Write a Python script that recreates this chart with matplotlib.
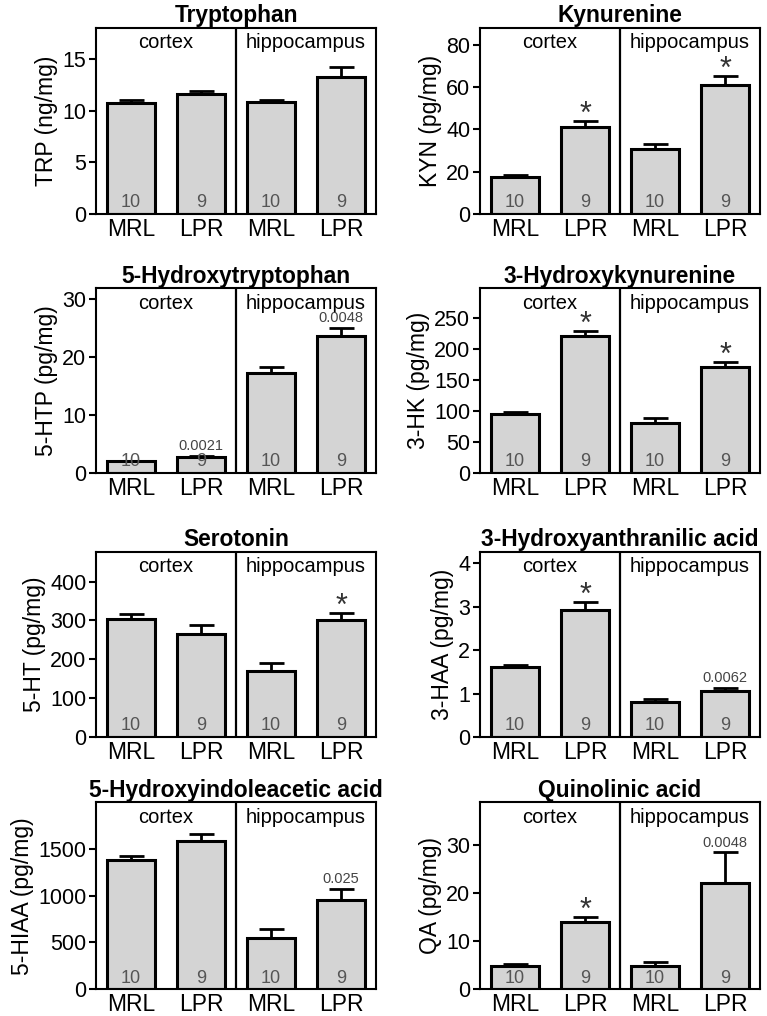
import matplotlib
matplotlib.use('Agg')
import matplotlib.pyplot as plt

plt.rcParams['font.family'] = ['Liberation Sans', 'DejaVu Sans']

# shared labels
groups = ['MRL', 'LPR', 'MRL', 'LPR']
n_labels = ['10', '9', '10', '9']
regions = ['cortex', 'hippocampus']

# one entry per panel, reading order (left->right, top->bottom)
titles = ['Tryptophan', 'Kynurenine', '5-Hydroxytryptophan', '3-Hydroxykynurenine',
          'Serotonin', '3-Hydroxyanthranilic acid', '5-Hydroxyindoleacetic acid',
          'Quinolinic acid']
ylabels = ['TRP (ng/mg)', 'KYN (pg/mg)', '5-HTP (pg/mg)', '3-HK (pg/mg)',
           '5-HT (pg/mg)', '3-HAA (pg/mg)', '5-HIAA (pg/mg)', 'QA (pg/mg)']

trp_mean = [10.75, 11.6, 10.85, 13.3]
trp_sem = [0.25, 0.3, 0.15, 0.9]
kyn_mean = [17.5, 41.3, 30.8, 60.9]
kyn_sem = [0.9, 2.7, 2.2, 4.6]
htp_mean = [2.0, 2.75, 17.2, 23.6]
htp_sem = [0.1, 0.15, 1.1, 1.4]
hk_mean = [95.5, 221.5, 81.0, 170.5]
hk_sem = [3.5, 8.0, 8.0, 9.0]
ht_mean = [304, 264, 171, 301]
ht_sem = [13, 24, 19, 18]
haa_mean = [1.62, 2.93, 0.81, 1.07]
haa_sem = [0.04, 0.19, 0.06, 0.07]
hiaa_mean = [1385, 1578, 545, 955]
hiaa_sem = [40, 80, 95, 115]
qa_mean = [4.9, 14.1, 4.95, 22.2]
qa_sem = [0.35, 1.0, 0.75, 6.3]

means = [trp_mean, kyn_mean, htp_mean, hk_mean, ht_mean, haa_mean, hiaa_mean, qa_mean]
sems = [trp_sem, kyn_sem, htp_sem, hk_sem, ht_sem, haa_sem, hiaa_sem, qa_sem]

# significance marks above bars ('*' or p-value text)
marks = [['', '', '', ''],
         ['', '*', '', '*'],
         ['', '0.0021', '', '0.0048'],
         ['', '*', '', '*'],
         ['', '', '', '*'],
         ['', '*', '', '0.0062'],
         ['', '', '', '0.025'],
         ['', '*', '', '0.0048']]

ymaxes = [18, 88, 31.8, 298, 477, 4.27, 1995, 38.9]
yticks = [[0, 5, 10, 15],
          [0, 20, 40, 60, 80],
          [0, 10, 20, 30],
          [0, 50, 100, 150, 200, 250],
          [0, 100, 200, 300, 400],
          [0, 1, 2, 3, 4],
          [0, 500, 1000, 1500],
          [0, 10, 20, 30]]

fig = plt.figure(figsize=(7.67, 10.16), dpi=100)

lefts = [0.1252, 0.6258]
width = 0.3651
rows = [(0.7894, 0.1831), (0.5344, 0.1818), (0.2746, 0.1824), (0.0263, 0.1839)]

xpos = [0.5, 1.5, 2.5, 3.5]

for i in range(8):
    bottom, height = rows[i // 2]
    ax = fig.add_axes([lefts[i % 2], bottom, width, height])

    ax.bar(xpos, means[i], width=0.68, color='#d4d4d4', edgecolor='black',
           linewidth=2.2, zorder=2)
    ax.errorbar(xpos, means[i], yerr=[[0] * 4, sems[i]], fmt='none',
                ecolor='black', elinewidth=2.0, capsize=9, capthick=2.0, zorder=1)

    ax.axvline(2, color='black', linewidth=1.6)
    ax.set_xlim(0, 4)
    ax.set_ylim(0, ymaxes[i])
    ax.set_yticks(yticks[i])
    ax.set_xticks(xpos)
    ax.set_xticklabels(groups)
    ax.tick_params(axis='x', length=0, labelsize=16.5, pad=3)
    ax.tick_params(axis='y', length=5, width=1.5, labelsize=15.5, pad=2)
    for sp in ax.spines.values():
        sp.set_linewidth(1.5)

    ax.set_title(titles[i], fontsize=16.4, fontweight='bold', pad=4)
    ax.set_ylabel(ylabels[i], fontsize=16.5, labelpad=3)

    ax.text(1, 0.92, regions[0], transform=ax.get_xaxis_transform(),
            ha='center', va='center', fontsize=14.5)
    ax.text(3, 0.92, regions[1], transform=ax.get_xaxis_transform(),
            ha='center', va='center', fontsize=14.5)

    for x, n in zip(xpos, n_labels):
        ax.text(x, 0.06, n, transform=ax.get_xaxis_transform(), ha='center',
                va='center', fontsize=13, color='#555555', zorder=3)

    for x, m, s, mk in zip(xpos, means[i], sems[i], marks[i]):
        if mk == '*':
            ax.annotate('*', (x, m + s), xytext=(0, -1.5), textcoords='offset points',
                        ha='center', va='baseline', fontsize=22, color='#333333')
        elif mk:
            ax.annotate(mk, (x, m + s), xytext=(0, 2), textcoords='offset points',
                        ha='center', va='bottom', fontsize=10.5, color='#444444')

fig.savefig('out.png', dpi=100)
